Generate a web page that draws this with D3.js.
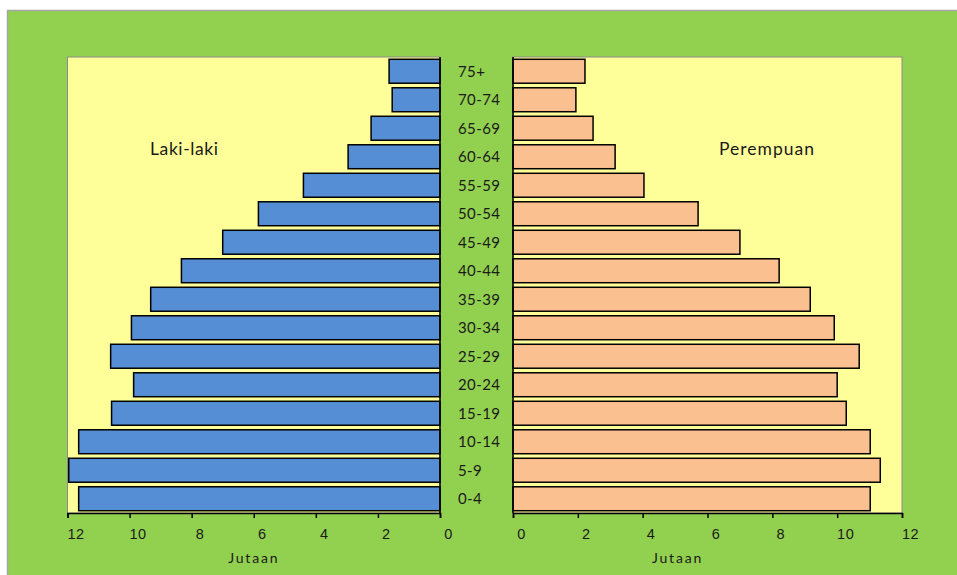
<!DOCTYPE html>
<html>
<head>
<meta charset="utf-8">
<script src="https://cdn.jsdelivr.net/npm/d3@7"></script>
<style>
  html, body { margin: 0; padding: 0; background: #ffffff; }
  svg { display: block; font-family: Lato, "Liberation Sans", sans-serif; }
</style>
</head>
<body>
<svg id="chart" width="957" height="575"></svg>
<script>
// Age groups, top to bottom
const ageGroups = ["75+", "70-74", "65-69", "60-64", "55-59", "50-54", "45-49", "40-44",
                   "35-39", "30-34", "25-29", "20-24", "15-19", "10-14", "5-9", "0-4"];
// Population in millions (Jutaan)
const maleValues   = [1.64, 1.54, 2.22, 2.96, 4.4, 5.85, 7.0, 8.33, 9.32, 9.94, 10.61, 9.87, 10.58, 11.64, 11.96, 11.64];
const femaleValues = [2.22, 1.94, 2.47, 3.15, 4.04, 5.71, 7.0, 8.21, 9.17, 9.91, 10.68, 10.0, 10.28, 11.02, 11.33, 11.02];
const xTicks = [0, 2, 4, 6, 8, 10, 12];
const maleLabel = "Laki-laki";
const femaleLabel = "Perempuan";
const axisTitle = "Jutaan";

const svg = d3.select("#chart");

// Outer background
svg.append("rect").attr("x", 7.5).attr("y", 10.5).attr("width", 957).attr("height", 575)
  .attr("fill", "#92D050").attr("stroke", "#a6a6a6").attr("stroke-width", 1.5);

const plotTop = 57, plotBottom = 513;
const leftPane = { x0: 67.5, x1: 440 };
const rightPane = { x0: 513, x1: 902 };

const y = d3.scaleBand().domain(ageGroups).range([plotTop, plotBottom]).paddingInner(0.16).paddingOuter(0.08);

const xL = d3.scaleLinear().domain([0, 12]).range([leftPane.x1, leftPane.x0]);
const xR = d3.scaleLinear().domain([0, 12]).range([rightPane.x0, rightPane.x1]);

// Plot areas
svg.append("rect").attr("x", leftPane.x0).attr("y", plotTop).attr("width", leftPane.x1 - leftPane.x0).attr("height", plotBottom - plotTop)
  .attr("fill", "#FFFF99").attr("stroke", "#8c8c8c").attr("stroke-width", 1);
svg.append("rect").attr("x", rightPane.x0).attr("y", plotTop).attr("width", rightPane.x1 - rightPane.x0).attr("height", plotBottom - plotTop)
  .attr("fill", "#FFFF99").attr("stroke", "#8c8c8c").attr("stroke-width", 1);

// Bars
svg.append("g").selectAll("rect").data(ageGroups).join("rect")
  .attr("x", (d, i) => xL(maleValues[i]))
  .attr("y", d => y(d))
  .attr("width", (d, i) => xL(0) - xL(maleValues[i]))
  .attr("height", y.bandwidth())
  .attr("fill", "#558ED5").attr("stroke", "#000").attr("stroke-width", 1.5);

svg.append("g").selectAll("rect").data(ageGroups).join("rect")
  .attr("x", xR(0))
  .attr("y", d => y(d))
  .attr("width", (d, i) => xR(femaleValues[i]) - xR(0))
  .attr("height", y.bandwidth())
  .attr("fill", "#FAC090").attr("stroke", "#000").attr("stroke-width", 1.5);

// Category axis lines
svg.append("line").attr("x1", leftPane.x1).attr("x2", leftPane.x1).attr("y1", plotTop).attr("y2", plotBottom)
  .attr("stroke", "#000").attr("stroke-width", 1.5);
svg.append("line").attr("x1", rightPane.x0).attr("x2", rightPane.x0).attr("y1", plotTop).attr("y2", plotBottom)
  .attr("stroke", "#000").attr("stroke-width", 1.5);

// Value axes
function styleAxis(g) {
  g.select(".domain").attr("stroke", "#000").attr("stroke-width", 1.5);
  g.selectAll(".tick line").attr("stroke", "#000").attr("stroke-width", 1.5);
  g.selectAll(".tick text").attr("font-size", 14.5).attr("fill", "#1a1a1a")
    .attr("dx", 8).attr("dy", 18).attr("letter-spacing", 0.5);
}
svg.append("g").attr("transform", `translate(0,${plotBottom})`)
  .call(d3.axisBottom(xL).tickValues(xTicks).tickSize(5).tickSizeOuter(5).tickFormat(d3.format("d")))
  .call(styleAxis);
svg.append("g").attr("transform", `translate(0,${plotBottom})`)
  .call(d3.axisBottom(xR).tickValues(xTicks).tickSize(5).tickSizeOuter(5).tickFormat(d3.format("d")))
  .call(styleAxis);

// Age group labels in the middle
svg.append("g").selectAll("text").data(ageGroups).join("text")
  .attr("x", 458)
  .attr("y", d => y(d) + y.bandwidth() / 2)
  .attr("dy", "0.36em")
  .attr("font-size", 15)
  .attr("letter-spacing", 0.4)
  .attr("fill", "#1a1a1a")
  .text(d => d);

// Axis titles
[[(leftPane.x0 + leftPane.x1) / 2, axisTitle], [(rightPane.x0 + rightPane.x1) / 2 - 30, axisTitle]].forEach(([cx, t]) => {
  svg.append("text").attr("x", cx).attr("y", 563).attr("text-anchor", "middle")
    .attr("font-size", 14).attr("letter-spacing", 1.8).attr("fill", "#1a1a1a").text(t);
});

// Series labels
svg.append("text").attr("x", 150).attr("y", 155).attr("font-size", 17.5).attr("letter-spacing", 0.6)
  .attr("fill", "#1a1a1a").text(maleLabel);
svg.append("text").attr("x", 719).attr("y", 155).attr("font-size", 17.5).attr("letter-spacing", 1)
  .attr("fill", "#1a1a1a").text(femaleLabel);
</script>
</body>
</html>
